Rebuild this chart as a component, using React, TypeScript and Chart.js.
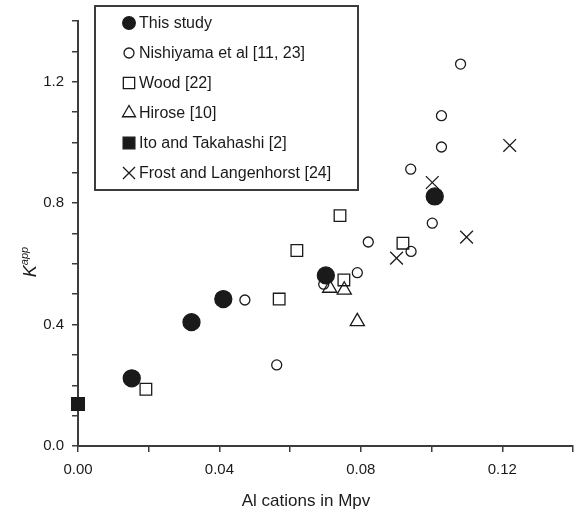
import React, { useEffect, useRef } from 'react';
import { Chart, registerables } from 'chart.js';
import { drawPoint } from 'chart.js/helpers';

Chart.register(...registerables);

const seriesLabels = [
  'This study',
  'Nishiyama et al [11, 23]',
  'Wood [22]',
  'Hirose [10]',
  'Ito and Takahashi [2]',
  'Frost and Langenhorst [24]',
];

const thisStudyX = [0.0152, 0.0321, 0.0411, 0.0701, 0.1009];
const thisStudyY = [0.223, 0.408, 0.484, 0.562, 0.822];

const nishiyamaX = [0.0472, 0.0562, 0.0695, 0.079, 0.0821, 0.0942, 0.1002, 0.0941, 0.1028, 0.1028, 0.1082];
const nishiyamaY = [0.481, 0.267, 0.533, 0.571, 0.672, 0.641, 0.734, 0.912, 0.985, 1.088, 1.258];

const woodX = [0.0192, 0.0569, 0.0619, 0.0741, 0.0752, 0.0919];
const woodY = [0.187, 0.484, 0.644, 0.759, 0.547, 0.668];

const hiroseX = [0.0712, 0.0753, 0.079];
const hiroseY = [0.52, 0.514, 0.41];

const itoX = [0.0];
const itoY = [0.138];

const frostX = [0.0901, 0.1002, 0.1099, 0.1221];
const frostY = [0.619, 0.868, 0.688, 0.99];

const xTickLabels = ['0.00', '0.04', '0.08', '0.12'];
const yTickLabels = ['0.0', '0.4', '0.8', '1.2'];

const xTitle = 'Al cations in Mpv';
const yTitleMain = 'K';
const yTitleSup = 'app';

const INK = '#1a1a1a';
const AXIS = '#3c3c3c';
const FONT = '"Liberation Sans", Arial, sans-serif';
const CLEAR = 'rgba(0,0,0,0)';

const toPts = (xs: number[], ys: number[]) => xs.map((x, i) => ({ x, y: ys[i] }));

type Marker = { style: string; fill: string; rPlot: number; rLegend: number };
const markers: Marker[] = [
  { style: 'circle', fill: INK, rPlot: 8.5, rLegend: 6.3 },
  { style: 'circle', fill: CLEAR, rPlot: 5, rLegend: 5 },
  { style: 'rect', fill: CLEAR, rPlot: 8.2, rLegend: 8 },
  { style: 'triangle', fill: CLEAR, rPlot: 8.2, rLegend: 7.5 },
  { style: 'rect', fill: INK, rPlot: 9, rLegend: 8.3 },
  { style: 'crossRot', fill: CLEAR, rPlot: 9, rLegend: 8.5 },
];

const seriesData = [
  toPts(thisStudyX, thisStudyY),
  toPts(nishiyamaX, nishiyamaY),
  toPts(woodX, woodY),
  toPts(hiroseX, hiroseY),
  toPts(itoX, itoY),
  toPts(frostX, frostY),
];

const overlayPlugin = {
  id: 'overlay',
  afterDraw(chart: any) {
    const ctx: CanvasRenderingContext2D = chart.ctx;
    ctx.save();

    // Legend box
    const bx = 95, by = 6, bw = 263, bh = 184;
    ctx.fillStyle = '#ffffff';
    ctx.fillRect(bx, by, bw, bh);
    ctx.strokeStyle = AXIS;
    ctx.lineWidth = 2;
    ctx.strokeRect(bx, by, bw, bh);

    ctx.font = `16px ${FONT}`;
    ctx.textBaseline = 'middle';
    ctx.textAlign = 'left';
    seriesLabels.forEach((label, i) => {
      const cy = 23 + i * 30;
      const m = markers[i];
      ctx.fillStyle = m.fill;
      ctx.strokeStyle = INK;
      ctx.lineWidth = 1.3;
      drawPoint(ctx, { pointStyle: m.style as any, radius: m.rLegend, rotation: 0, borderWidth: 1.3 } as any, 129, cy);
      ctx.fillStyle = INK;
      ctx.fillText(label, 139, cy + 1);
    });

    // X title
    ctx.font = `17px ${FONT}`;
    ctx.textAlign = 'center';
    ctx.textBaseline = 'alphabetic';
    ctx.fillStyle = INK;
    ctx.fillText(xTitle, 306, 506);

    // Y title with superscript
    ctx.translate(36, 262);
    ctx.rotate(-Math.PI / 2);
    ctx.textAlign = 'left';
    ctx.font = `italic 18px ${FONT}`;
    const wK = ctx.measureText(yTitleMain).width;
    ctx.font = `italic 11px ${FONT}`;
    const wS = ctx.measureText(yTitleSup).width;
    const start = -(wK + wS) / 2;
    ctx.font = `italic 18px ${FONT}`;
    ctx.fillText(yTitleMain, start, 0);
    ctx.font = `italic 11px ${FONT}`;
    ctx.fillText(yTitleSup, start + wK, -8);

    ctx.restore();
  },
};

export default function App() {
  const canvasRef = useRef<HTMLCanvasElement | null>(null);

  useEffect(() => {
    document.body.style.margin = '0';
    const canvas = canvasRef.current;
    if (!canvas) return;
    const chart = new Chart(canvas, {
      type: 'scatter',
      data: {
        datasets: seriesLabels.map((label, i) => ({
          label,
          data: seriesData[i],
          pointStyle: markers[i].style as any,
          pointRadius: markers[i].rPlot,
          pointHoverRadius: markers[i].rPlot,
          pointBackgroundColor: markers[i].fill,
          pointBorderColor: INK,
          pointBorderWidth: 1.3,
          borderColor: INK,
          backgroundColor: markers[i].fill,
          showLine: false,
          clip: false as any,
        })),
      },
      options: {
        animation: false,
        responsive: true,
        maintainAspectRatio: false,
        layout: { autoPadding: false, padding: { left: 0, top: 21, right: 3, bottom: 0 } },
        plugins: {
          legend: { display: false },
          tooltip: { enabled: false },
        },
        scales: {
          x: {
            type: 'linear',
            min: 0,
            max: 0.14,
            afterFit: (s: any) => { s.height = 66; s.paddingLeft = 0; s.paddingRight = 0; },
            border: { display: true, color: AXIS, width: 2 },
            grid: { drawOnChartArea: false, drawTicks: true, tickLength: 6, color: AXIS, lineWidth: 1.5 },
            ticks: {
              stepSize: 0.02,
              autoSkip: false,
              maxRotation: 0,
              padding: 9,
              color: INK,
              font: { family: FONT, size: 15 },
              callback: (v: any) => {
                const s = Number(v).toFixed(2);
                return xTickLabels.includes(s) ? s : '';
              },
            },
          },
          y: {
            type: 'linear',
            min: 0,
            max: 1.4,
            afterFit: (s: any) => { s.width = 78; s.paddingTop = 0; s.paddingBottom = 0; },
            border: { display: true, color: AXIS, width: 2 },
            grid: { drawOnChartArea: false, drawTicks: true, tickLength: 6, color: AXIS, lineWidth: 1.5 },
            ticks: {
              stepSize: 0.1,
              autoSkip: false,
              padding: 8,
              color: INK,
              font: { family: FONT, size: 15 },
              callback: (v: any) => {
                const s = Number(v).toFixed(1);
                return yTickLabels.includes(s) ? s : '';
              },
            },
          },
        },
      },
      plugins: [overlayPlugin],
    });
    return () => chart.destroy();
  }, []);

  return (
    <div style={{ position: 'absolute', left: 0, top: 0, width: 576, height: 512 }}>
      <canvas ref={canvasRef} />
    </div>
  );
}
